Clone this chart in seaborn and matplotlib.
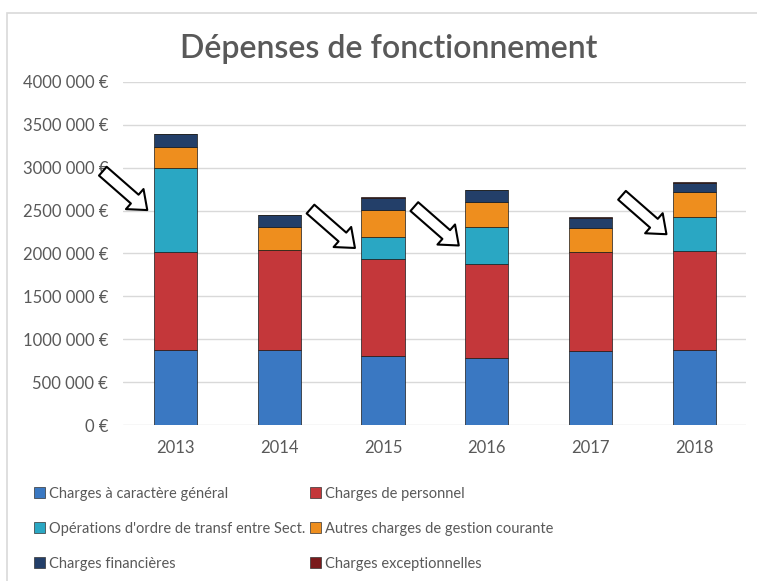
"""
Dépenses de fonctionnement 2013-2018, stacked bars by type of charge.
"""
import matplotlib
matplotlib.use("Agg")
import matplotlib.pyplot as plt
import seaborn as sns
from matplotlib.patches import Rectangle, Patch
from matplotlib.ticker import FuncFormatter
import numpy as np


YEARS = ["2013", "2014", "2015", "2016", "2017", "2018"]
GENERAL = [880000, 880000, 802000, 787000, 864000, 880000]
PERSONNEL = [1135000, 1155000, 1136000, 1085000, 1151000, 1147000]
OPERATIONS = [982000, 0, 252000, 442000, 0, 395000]
AUTRES = [247000, 271000, 318000, 283000, 284000, 291000]
FINANCIERES = [143000, 142000, 142000, 138000, 118000, 111000]
EXCEPTIONNELLES = [5000, 5000, 5000, 5000, 5000, 5000]

SERIES = [
    ("Charges à caractère général", GENERAL, "#3A78C2"),
    ("Charges de personnel", PERSONNEL, "#C4373A"),
    ("Opérations d'ordre de transf entre Sect.", OPERATIONS, "#2AA7C3"),
    ("Autres charges de gestion courante", AUTRES, "#EE8E1E"),
    ("Charges financières", FINANCIERES, "#233F69"),
    ("Charges exceptionnelles", EXCEPTIONNELLES, "#7A1A1C"),
]
ARROW_YEARS = ["2013", "2015", "2016", "2018"]

GREY = "#595959"


def fmt_euro(v, _pos):
    v = int(round(v))
    if v == 0:
        return "0 €"
    return f"{v // 1000} 000 €"


def main():
    sns.set_theme(style="white")
    plt.rcParams["font.family"] = ["Lato", "DejaVu Sans"]

    fig = plt.figure(figsize=(7.57, 5.81), dpi=100)
    ax = fig.add_axes([0.163, 0.2685, 0.823, 0.5905])

    bottom = np.zeros(len(YEARS))
    handles = []
    for label, vals, color in SERIES:
        vals = np.array(vals, dtype=float)
        sns.barplot(x=YEARS, y=vals, bottom=bottom, color=color, width=0.415,
                    edgecolor="#1a1a1a", linewidth=0.5, saturation=1, ax=ax)
        handles.append(Patch(facecolor=color, edgecolor="#333333", linewidth=0.5, label=label))
        bottom += vals

    # hollow arrows pointing at the "opérations d'ordre" segments
    for year in ARROW_YEARS:
        i = YEARS.index(year)
        tip_y = GENERAL[i] + PERSONNEL[i] + 0.5 * OPERATIONS[i]
        ax.annotate(
            "", xy=(i - 0.27, tip_y), xytext=(-32, 28), textcoords="offset points",
            arrowprops=dict(arrowstyle="simple,head_length=1.0,head_width=1.6,tail_width=0.7",
                            fc="white", ec="black", lw=1.5, shrinkA=0, shrinkB=0),
            annotation_clip=False,
        )

    ax.set_ylim(0, 4000000)
    ax.set_yticks(np.arange(0, 4000001, 500000))
    ax.yaxis.set_major_formatter(FuncFormatter(fmt_euro))
    ax.set_xlim(-0.5, len(YEARS) - 0.5)
    ax.grid(axis="y", color="#D9D9D9", linewidth=1)
    ax.set_axisbelow(True)
    for s in ax.spines.values():
        s.set_visible(False)
    ax.tick_params(axis="y", length=0, pad=11, labelsize=12, labelcolor=GREY)
    ax.tick_params(axis="x", length=0, pad=11, labelsize=12, labelcolor=GREY)
    ax.set_xlabel("")
    ax.set_ylabel("")

    fig.text(0.513, 0.915, "Dépenses de fonctionnement", ha="center", va="center",
             fontsize=23, fontweight="semibold", color=GREY)

    order = [0, 2, 4, 1, 3, 5]
    fig.legend([handles[k] for k in order], [SERIES[k][0] for k in order],
               ncol=2, loc="upper left", bbox_to_anchor=(0.035, 0.175), frameon=False,
               fontsize=10.5, labelcolor=GREY, handlelength=0.75, handleheight=0.75,
               handletextpad=0.3, columnspacing=0.3, labelspacing=1.45, borderpad=0)

    # chart frame
    fig.patches.append(Rectangle((7 / 757, -0.1), 1.2, 1.1 - 13 / 581, transform=fig.transFigure,
                                 fill=False, edgecolor="#D9D9D9", linewidth=1.2))

    fig.savefig("out.png", dpi=100, facecolor="white")


if __name__ == "__main__":
    main()
